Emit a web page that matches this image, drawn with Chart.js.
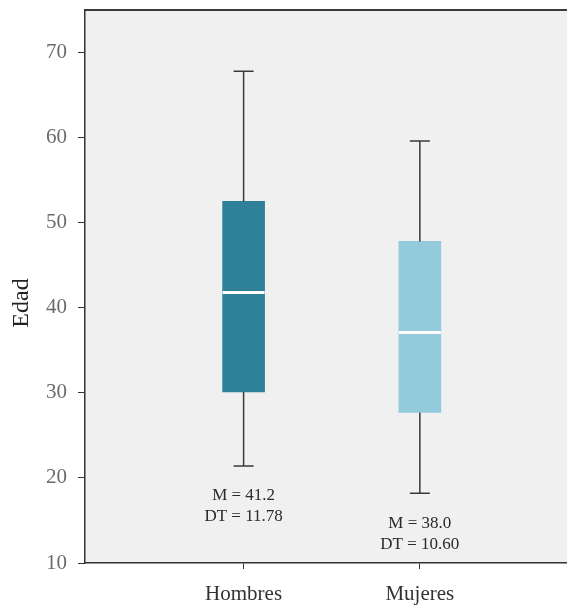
<!DOCTYPE html>
<html>
<head>
<meta charset="utf-8">
<script src="https://cdn.jsdelivr.net/npm/chart.js@4"></script>
<style>
  html, body { margin: 0; padding: 0; background: #ffffff; }
  #wrap { width: 567px; height: 605px; }
</style>
</head>
<body>
<div id="wrap"><canvas id="c" width="567" height="605"></canvas></div>
<script>
// Age distribution by sex: whiskers, quartiles and medians
const groups = ['Hombres', 'Mujeres'];
const groupPos = [1, 2];
const lowWhisker = [21.4, 18.2];
const q1 = [30.1, 27.7];
const median = [41.8, 37.1];
const q3 = [52.5, 47.8];
const highWhisker = [67.8, 59.6];
const means = ['41.2', '38.0'];
const sds = ['11.78', '10.60'];
const yTicks = [10, 20, 30, 40, 50, 60, 70];
const boxColors = ['#2f8199', '#93cbdc'];

const SERIF = '"Liberation Serif", "DejaVu Serif", serif';

// light grey panel behind the plot, with a top border line
const panel = {
  id: 'panel',
  beforeDraw(chart) {
    const { ctx, chartArea: a } = chart;
    ctx.save();
    ctx.fillStyle = '#f0f0f0';
    ctx.fillRect(a.left, a.top, a.right - a.left, a.bottom - a.top);
    ctx.strokeStyle = '#3a3a3a';
    ctx.lineWidth = 2;
    ctx.beginPath();
    ctx.moveTo(a.left, a.top);
    ctx.lineTo(a.right, a.top);
    ctx.stroke();
    ctx.restore();
  }
};

// whiskers, caps, median lines and the mean / SD notes under each box
const whiskers = {
  id: 'whiskers',
  afterDatasetsDraw(chart) {
    const { ctx } = chart;
    const xs = chart.scales.x, ys = chart.scales.y;
    const meta = chart.getDatasetMeta(0);
    ctx.save();
    groupPos.forEach((g, i) => {
      const x = xs.getPixelForValue(g);
      const half = meta.data[i].width / 2;
      const yHi = ys.getPixelForValue(highWhisker[i]);
      const yQ3 = ys.getPixelForValue(q3[i]);
      const yQ1 = ys.getPixelForValue(q1[i]);
      const yLo = ys.getPixelForValue(lowWhisker[i]);
      const yMed = ys.getPixelForValue(median[i]);
      ctx.strokeStyle = '#3a3a3a';
      ctx.lineWidth = 1.5;
      ctx.beginPath();
      ctx.moveTo(x, yHi); ctx.lineTo(x, yQ3);
      ctx.moveTo(x, yQ1); ctx.lineTo(x, yLo);
      ctx.moveTo(x - 10, yHi); ctx.lineTo(x + 10, yHi);
      ctx.moveTo(x - 10, yLo); ctx.lineTo(x + 10, yLo);
      ctx.stroke();
      ctx.strokeStyle = '#ffffff';
      ctx.lineWidth = 3;
      ctx.beginPath();
      ctx.moveTo(x - half, yMed); ctx.lineTo(x + half, yMed);
      ctx.stroke();
      ctx.fillStyle = '#2a2a2a';
      ctx.font = '17px ' + SERIF;
      ctx.textAlign = 'center';
      ctx.textBaseline = 'middle';
      ctx.fillText('M = ' + means[i], x, yLo + 30);
      ctx.fillText('DT = ' + sds[i], x, yLo + 51);
    });
    ctx.restore();
  },
  afterDraw(chart) {
    const { ctx } = chart;
    ctx.save();
    ctx.translate(22, 303);
    ctx.rotate(-Math.PI / 2);
    ctx.fillStyle = '#222222';
    ctx.font = '24px ' + SERIF;
    ctx.textAlign = 'center';
    ctx.textBaseline = 'middle';
    ctx.fillText('Edad', 0, 0);
    ctx.restore();
  }
};

new Chart(document.getElementById('c'), {
  type: 'bar',
  data: {
    datasets: [{
      data: groupPos.map((x, i) => ({ x: x, y: [q1[i], q3[i]] })),
      backgroundColor: boxColors,
      borderWidth: 0,
      barThickness: 42,
      grouped: false
    }]
  },
  options: {
    responsive: false,
    devicePixelRatio: 1,
    animation: false,
    layout: { padding: { top: 10, right: 0, left: 0, bottom: 0 } },
    plugins: { legend: { display: false }, tooltip: { enabled: false } },
    scales: {
      x: {
        type: 'linear',
        min: 0.1,
        max: 2.835,
        offset: false,
        afterBuildTicks: s => { s.ticks = groupPos.map(v => ({ value: v })); },
        afterFit: s => { s.height = 42; s.paddingLeft = 0; s.paddingRight = 0; },
        ticks: {
          callback: v => groups[groupPos.indexOf(v)],
          font: { family: SERIF, size: 21 },
          color: '#333333',
          padding: 13,
          maxRotation: 0,
          autoSkip: false
        },
        grid: { drawOnChartArea: false, drawTicks: true, tickLength: 6, color: '#333333', offset: false },
        border: { color: '#333333', width: 1.5 }
      },
      y: {
        min: 10,
        max: 75,
        afterBuildTicks: s => { s.ticks = yTicks.map(v => ({ value: v })); },
        afterFit: s => { s.width = 85; s.paddingTop = 0; s.paddingBottom = 0; },
        ticks: {
          font: { family: SERIF, size: 21 },
          color: '#6b6b6b',
          padding: 11
        },
        grid: { drawOnChartArea: false, drawTicks: true, tickLength: 7, color: '#333333' },
        border: { color: '#333333', width: 1.5 }
      }
    }
  },
  plugins: [panel, whiskers]
});
</script>
</body>
</html>
